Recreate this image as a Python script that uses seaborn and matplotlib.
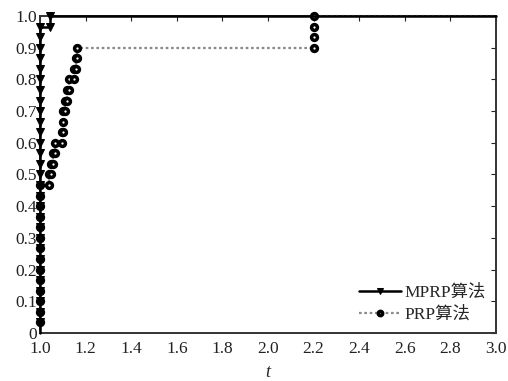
import matplotlib
matplotlib.use("Agg")
import matplotlib.pyplot as plt
import seaborn as sns
import numpy as np
import pandas as pd

# sorted performance ratios for each solver (30 test problems)
mprp_ratios = [1.0, 1.0, 1.0, 1.0, 1.0, 1.0, 1.0, 1.0, 1.0, 1.0,
               1.0, 1.0, 1.0, 1.0, 1.0, 1.0, 1.0, 1.0, 1.0, 1.0,
               1.0, 1.0, 1.0, 1.0, 1.0, 1.0, 1.0, 1.0, 1.0, 1.045]
prp_ratios = [1.0, 1.0, 1.0, 1.0, 1.0, 1.0, 1.0, 1.0, 1.0, 1.0,
              1.0, 1.0, 1.0, 1.0, 1.04, 1.047, 1.055, 1.066, 1.096, 1.10,
              1.10, 1.107, 1.117, 1.125, 1.15, 1.158, 1.164, 2.2, 2.2, 2.2]
series_names = ["MPRP算法", "PRP算法"]
x_ticks = [1.0, 1.2, 1.4, 1.6, 1.8, 2.0, 2.2, 2.4, 2.6, 2.8, 3.0]
y_ticks = [0, 0.1, 0.2, 0.3, 0.4, 0.5, 0.6, 0.7, 0.8, 0.9, 1.0]
y_ticklabels = ["0", "0.1", "0.2", "0.3", "0.4", "0.5", "0.6", "0.7", "0.8", "0.9", "1.0"]
tau_max = 3.0


def profile(ratios, tmax):
    n = len(ratios)
    xs = [ratios[0]]
    ys = [0.0]
    for i, t in enumerate(ratios, 1):
        if t != xs[-1]:
            xs.append(t)
            ys.append(ys[-1])
        xs.append(t)
        ys.append(i / n)
    xs.append(tmax)
    ys.append(1.0)
    return pd.DataFrame({"t": xs, "rho": ys})


sns.set_theme(style="white")
plt.rcParams["font.family"] = ["Liberation Serif", "Noto Sans CJK SC"]

fig = plt.figure(figsize=(5.08, 3.81), dpi=100)
ax = fig.add_axes([0.079, 0.126, 0.897, 0.832])

d1 = profile(mprp_ratios, tau_max)
d2 = profile(prp_ratios, tau_max)

sns.lineplot(data=d2, x="t", y="rho", sort=False, estimator=None, ax=ax,
             color="#8a8a8a", linestyle=(0, (1.2, 1.2)), linewidth=1.6,
             marker="o", markersize=4.2, markerfacecolor="white",
             markeredgecolor="black", markeredgewidth=2.5,
             markevery=list(range(1, len(d2) - 1)), label=series_names[1],
             clip_on=False, zorder=3)
sns.lineplot(data=d1, x="t", y="rho", sort=False, estimator=None, ax=ax,
             color="black", linewidth=1.8,
             marker="v", markersize=6, markerfacecolor="black",
             markeredgecolor="black",
             markevery=list(range(1, len(d1) - 1)), label=series_names[0],
             clip_on=False, zorder=4)

ax.set_xlim(1.0, 3.0)
ax.set_ylim(0, 1.0)
ax.set_xticks(x_ticks)
ax.set_xticklabels([f"{v:.1f}" for v in x_ticks])
ax.set_yticks(y_ticks)
ax.set_yticklabels(y_ticklabels)
ax.tick_params(axis="both", direction="in", length=3.5, width=0.8, top=True,
               right=True, labelsize=12.5, colors="#222222")
ax.tick_params(axis="x", pad=6)
ax.tick_params(axis="y", pad=2)
for s in ax.spines.values():
    s.set_color("#333333")
    s.set_linewidth(1.4)
ax.set_xlabel("t", fontsize=13, fontstyle="italic", labelpad=5)
ax.set_ylabel("")

h, l = ax.get_legend_handles_labels()
order = [l.index(series_names[0]), l.index(series_names[1])]
ax.legend([h[i] for i in order], [l[i] for i in order], loc="lower right",
          frameon=False, fontsize=12.5, handlelength=2.4, handletextpad=0.2,
          borderaxespad=0.2, labelspacing=0.3, markerscale=0.75)

fig.savefig("out.png", dpi=100)
